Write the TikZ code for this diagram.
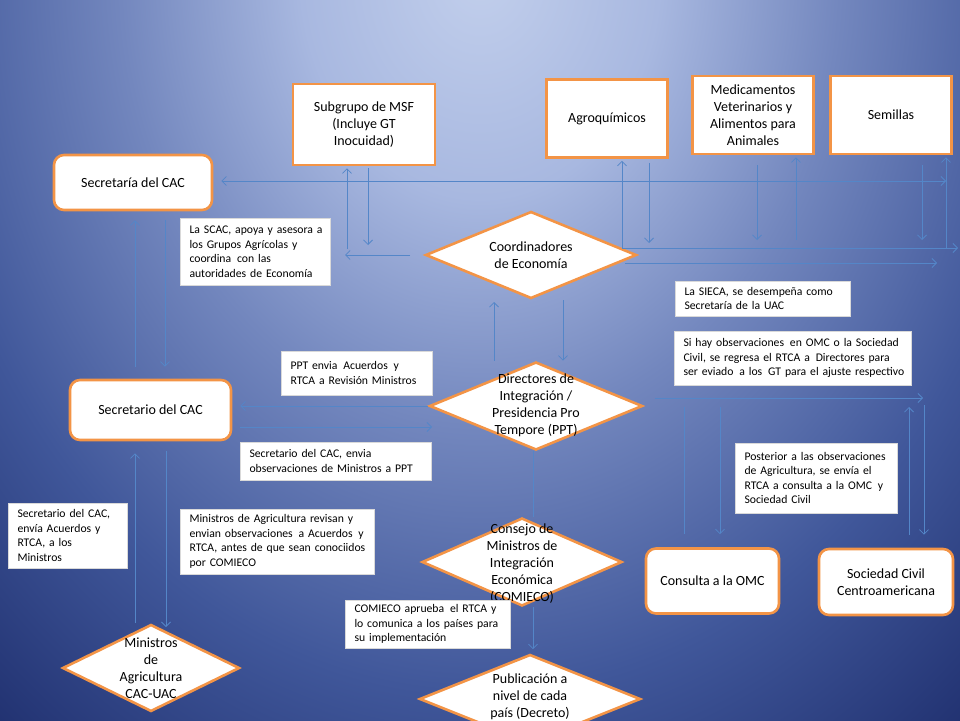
\documentclass[tikz,border=0pt]{standalone}
\usepackage{fontspec}
\setmainfont{Carlito}
\usetikzlibrary{shapes.geometric,arrows.meta}
\definecolor{orangeb}{RGB}{243,148,70}
\definecolor{arrowc}{RGB}{84,134,200}
\definecolor{bgA}{RGB}{194,207,236}
\definecolor{bgB}{RGB}{168,184,224}
\definecolor{bgC}{RGB}{115,135,190}
\definecolor{bgD}{RGB}{64,87,154}
\definecolor{bgE}{RGB}{22,36,98}
\pgfdeclareradialshading{bgshade}{\pgfpoint{0bp}{0bp}}{color(0bp)=(bgA); color(3bp)=(bgB); color(6bp)=(bgC); color(9.5bp)=(bgD); color(14bp)=(bgE); color(25bp)=(bgE); color(50bp)=(bgE)}
\newcommand\fsMain{\fontsize{14}{17}\selectfont}
\newcommand\fsSmall{\fontsize{11.7}{14.5}\selectfont}
\begin{document}
\begin{tikzpicture}[x=1pt,y=-1pt,
  >={Straight Barb[length=4.5pt,width=9pt]},
  sbox/.style={draw=orangeb, line width=2.6pt, fill=white, inner sep=0pt, font=\fsMain, align=center},
  rbox/.style={sbox, rounded corners=10pt},
  dia/.style={diamond, draw=orangeb, line width=2.6pt, fill=white, inner sep=0pt},
  lbl/.style={font=\fsMain, align=center, inner sep=0pt, text=black},
  callout/.style={draw=black!15, line width=0.6pt, fill=white, inner xsep=9.5pt, inner ysep=0pt, align=left, font=\fsSmall},
  ar/.style={draw=arrowc, line width=0.8pt}
]
\useasboundingbox (0,0) rectangle (960,720);
\begin{scope}
  \clip (0,0) rectangle (960,720);
  \shade[shading=bgshade] (480,-30) ellipse [x radius=1500pt, y radius=1900pt];
\end{scope}

% ---------- boxes ----------
\node[rbox, minimum width=158pt, minimum height=55pt] (secria) at (133,182.5) {Secretaría del CAC};
\node[sbox, minimum width=142pt, minimum height=81pt] (msf) at (364,124.5) {Subgrupo de MSF\\(Incluye GT\\Inocuidad)};
\node[sbox, minimum width=121pt, minimum height=78pt] (agro) at (607,118.5) {Agroquímicos};
\node[sbox, minimum width=121pt, minimum height=78pt] (medi) at (753,115) {Medicamentos\\Veterinarios y\\Alimentos para\\Animales};
\node[sbox, minimum width=121pt, minimum height=78pt] (semi) at (891,115) {Semillas};
\node[rbox, minimum width=161pt, minimum height=60pt] (secio) at (150.5,410) {Secretario del CAC};
\node[rbox, minimum width=133pt, minimum height=65pt] (omc) at (712.5,581) {Consulta a la OMC};
\node[rbox, minimum width=134pt, minimum height=66pt] (soc) at (886,582) {Sociedad Civil\\Centroamericana};

% ---------- diamonds ----------
\node[dia, minimum width=211pt, minimum height=87pt] (coord) at (531,255) {};
\node[lbl] (coordT) at (531,255.5) {Coordinadores\\de Economía};
\node[dia, minimum width=213pt, minimum height=88pt] (dir) at (536,406) {};
\node[lbl] (dirT) at (536,405) {Directores de\\Integración /\\Presidencia Pro\\Tempore (PPT)};
\node[dia, minimum width=200pt, minimum height=88pt] (cons) at (522,562) {};
\node[lbl] (consT) at (522,564) {Consejo de\\Ministros de\\Integración\\Económica\\(COMIECO)};
\node[dia, minimum width=177pt, minimum height=87pt] (mina) at (151,668) {};
\node[lbl] (minaT) at (151,668) {Ministros\\de\\Agricultura\\CAC-UAC};
\node[dia, minimum width=221pt, minimum height=89pt] (pub) at (530,699) {};
\node[lbl] (pubT) at (530,696.5) {Publicación a\\nivel de cada\\país (Decreto)};

% ---------- callouts ----------
\node[callout, text width=131pt, minimum height=67pt] (scac) at (255,251.5)
  {\mbox{La SCAC, apoya y asesora a}\\\mbox{los Grupos Agrícolas y}\\\mbox{coordina\, con las}\\\mbox{autoridades de Economía}};
\node[callout, text width=156pt, minimum height=35pt] (sieca) at (762.5,298.5)
  {\mbox{La SIECA, se desempeña como}\\\mbox{Secretaría de la UAC}};
\node[callout, text width=218pt, minimum height=54pt] (sihay) at (792.5,358)
  {\mbox{Si hay observaciones\, en OMC o la Sociedad}\\\mbox{Civil, se regresa el RTCA a\, Directores para}\\\mbox{ser eviado\, a los\, GT para el ajuste respectivo}};
\node[callout, text width=132pt, minimum height=44pt] (pptenv) at (356.5,373)
  {\mbox{PPT envia\, Acuerdos\, y}\\\mbox{RTCA a Revisión Ministros}};
\node[callout, text width=172pt, minimum height=38pt] (secenv) at (335.5,461)
  {\mbox{Secretario del CAC, envia}\\\mbox{observaciones de Ministros a PPT}};
\node[callout, text width=143pt, minimum height=70pt] (post) at (816,478)
  {\mbox{Posterior a las observaciones}\\\mbox{de Agricultura, se envía el}\\\mbox{RTCA a consulta a la OMC\, y}\\\mbox{Sociedad Civil}};
\node[callout, text width=100pt, minimum height=65pt, inner xsep=9.5pt] (secacu) at (67.5,535.5)
  {\mbox{Secretario del CAC,}\\\mbox{envía Acuerdos y}\\\mbox{RTCA, a los}\\\mbox{Ministros}};
\node[callout, text width=175pt, minimum height=65pt] (minrev) at (277,541.5)
  {\mbox{Ministros de Agricultura revisan y}\\\mbox{envian observaciones\, a Acuerdos\, y}\\\mbox{RTCA, antes de que sean conociidos}\\\mbox{por COMIECO}};
\node[callout, text width=146pt, minimum height=48pt] (comi) at (427.5,624)
  {\mbox{COMIECO aprueba\, el RTCA y}\\\mbox{lo comunica a los países para}\\\mbox{su implementación}};

% ---------- coordinates ----------
\coordinate (e1) at (946,181);
\coordinate (m0) at (345,255);
\coordinate (m1) at (347,249);
\coordinate (m2) at (368,245);
\coordinate (a1) at (622,248);
\coordinate (a2) at (649,243);
\coordinate (b1) at (757,240);
\coordinate (b2) at (796,240);
\coordinate (s1) at (922,240);
\coordinate (s2) at (946,248);
\coordinate (r1) at (958,248);
\coordinate (c3) at (625,263);
\coordinate (r2) at (937,263);
\coordinate (d1) at (494,360);
\coordinate (d1t) at (494,302);
\coordinate (d2) at (563,300);
\coordinate (p1) at (432,427);
\coordinate (u1) at (135,300);
\coordinate (u2) at (165,300);
\coordinate (u3) at (135,623);
\coordinate (u4) at (166,627);
\coordinate (v1) at (533,500);
\coordinate (w0) at (655,398);
\coordinate (w1) at (923,398);
\coordinate (x1) at (684,407);
\coordinate (x2) at (720,407);
\coordinate (x3) at (909,407);
\coordinate (x4) at (924,405);

% ---------- connectors ----------
\draw[ar,<->,shorten <=8pt] (secria.east |- e1) -- (e1);
\draw[ar,->,shorten <=14pt] (coord.west) -- (m0);
\draw[ar,->,shorten >=2pt] (m1) -- (m1 |- msf.south);
\draw[ar,->,shorten <=2pt] (msf.south -| m2) -- (m2);
\draw[ar,->,shorten >=2pt] (a1) -- (a1 |- agro.south);
\draw[ar,->,shorten <=4pt] (agro.south -| a2) -- (a2);
\draw[ar,->,shorten <=10pt] (medi.south -| b1) -- (b1);
\draw[ar,->,shorten >=2pt] (b2) -- (b2 |- medi.south);
\draw[ar,->,shorten <=10pt] (semi.south -| s1) -- (s1);
\draw[ar,->,shorten >=2pt] (s2) -- (s2 |- semi.south);
\draw[ar,->] (a1) -- (r1);
\draw[ar,->] (c3) -- (r2);
\draw[ar,->] (dir.north -| d1) -- (d1t);
\draw[ar,->] (d2) -- (dir.north -| d2);
\draw[ar,->,shorten >=8pt] (dir.west) -- (secio.east |- dir.west);
\draw[ar,->,shorten <=8pt] (secio.east |- p1) -- (p1);
\draw[ar,->,shorten <=12pt,shorten >=9pt] (secio.north -| u1) -- (secria.south -| u1);
\draw[ar,->,shorten <=9pt,shorten >=12pt] (secria.south -| u2) -- (secio.north -| u2);
\draw[ar,->,shorten >=12pt] (u3) -- (secio.south -| u3);
\draw[ar,->,shorten <=10pt] (secio.south -| u4) -- (u4);
\draw[ar] (dir.south -| v1) -- (cons.north -| v1);
\draw[ar,->,shorten >=4pt] (cons.south -| v1) -- (pub.north -| v1);
\draw[ar,->] (w0) -- (w1);
\draw[ar,shorten >=13pt] (x1) -- (omc.north -| x1);
\draw[ar,->,shorten >=13pt] (x2) -- (omc.north -| x2);
\draw[ar,->,shorten <=13pt] (soc.north -| x3) -- (x3);
\draw[ar,->,shorten >=13pt] (x4) -- (soc.north -| x4);
\end{tikzpicture}
\end{document}
